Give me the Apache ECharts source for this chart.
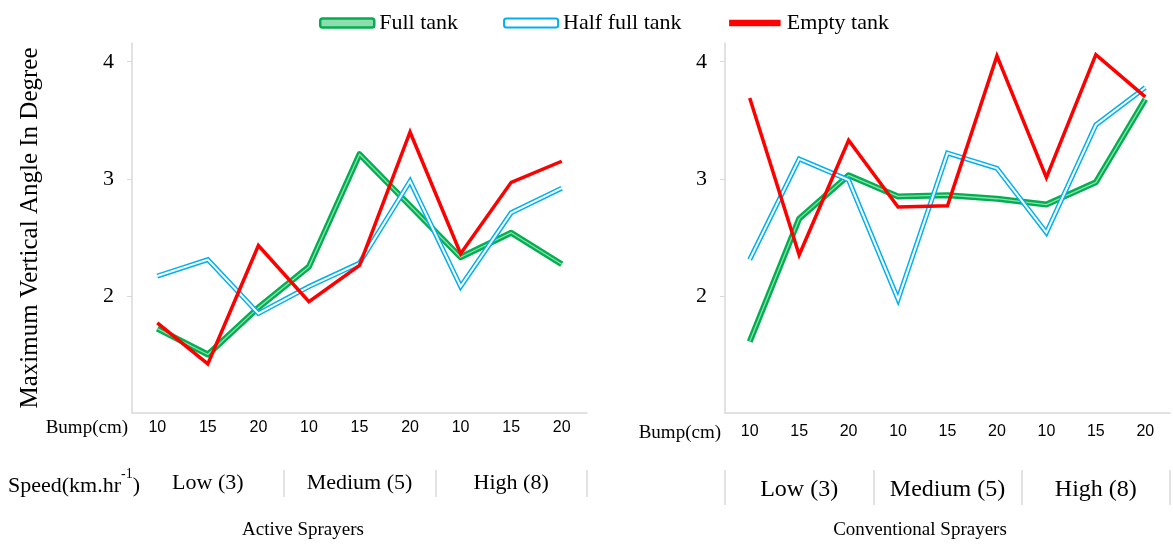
<!DOCTYPE html>
<html>
<head>
<meta charset="utf-8">
<title>Maximum Vertical Angle</title>
<script src="https://cdn.jsdelivr.net/npm/echarts@6/dist/echarts.min.js"></script>
<style>
  html, body { margin: 0; padding: 0; background: #fff; }
  #main { width: 1173px; height: 545px; }
</style>
</head>
<body>
<div id="main"></div>
<script>
// 数据
var bumps = ['10', '15', '20'];
var speeds = ['Low (3)', 'Medium (5)', 'High (8)'];
var tanks = ['Full tank', 'Half full tank', 'Empty tank'];
var yTicks = [2, 3, 4];

// Active Sprayers
var activeFull  = [1.72, 1.50, 1.90, 2.25, 3.21, 2.77, 2.33, 2.54, 2.27];
var activeHalf  = [2.17, 2.31, 1.85, 2.08, 2.28, 2.98, 2.08, 2.71, 2.92];
var activeEmpty = [1.77, 1.42, 2.43, 1.95, 2.26, 3.40, 2.36, 2.97, 3.15];

// Conventional Sprayers
var convFull  = [1.61, 2.66, 3.03, 2.85, 2.86, 2.83, 2.78, 2.97, 3.68];
var convHalf  = [2.31, 3.17, 2.99, 1.97, 3.22, 3.09, 2.54, 3.46, 3.78];
var convEmpty = [3.69, 2.35, 3.33, 2.76, 2.77, 4.05, 3.01, 4.06, 3.70];

var serif = 'Liberation Serif';
var sans = 'Liberation Sans';
var axisGray = '#d9d9d9';

// 类目: 速度|颠簸
var categories = [];
speeds.forEach(function (s) {
  bumps.forEach(function (b) { categories.push(s + '|' + b); });
});

function bumpAxis(gridIndex, labelMargin) {
  return {
    type: 'category', gridIndex: gridIndex, data: categories,
    axisLine: { lineStyle: { color: axisGray, width: 1.5 } },
    axisTick: { interval: 2, length: 10, lineStyle: { color: axisGray, width: 1.5 } },
    axisLabel: {
      interval: 0, margin: labelMargin, color: '#000', fontFamily: sans, fontSize: 16,
      formatter: function (v) { return v.split('|')[1]; }
    }
  };
}

function speedAxis(gridIndex, tickLen, labelMargin, fontSize, skipFirst) {
  return {
    type: 'category', gridIndex: gridIndex, data: speeds, position: 'bottom', offset: 57,
    axisLine: { show: false },
    axisTick: {
      show: true, length: tickLen, lineStyle: { color: axisGray, width: 1.5 },
      interval: skipFirst ? function (idx) { return idx > 0; } : 0
    },
    axisLabel: { interval: 0, margin: labelMargin, color: '#000', fontFamily: serif, fontSize: fontSize }
  };
}

function valueAxis(gridIndex) {
  return {
    type: 'value', gridIndex: gridIndex, min: 1, max: 4.16,
    splitLine: { show: false },
    axisLine: { show: true, lineStyle: { color: axisGray, width: 1.5 } },
    axisTick: { show: true, length: 5, customValues: yTicks, lineStyle: { color: axisGray } },
    axisLabel: { customValues: yTicks, margin: 18, color: '#000', fontFamily: serif, fontSize: 22 }
  };
}

// 线条: 外层 + 内层(模拟双线)
function lines(xi, yi, full, half, empty) {
  var base = { type: 'line', xAxisIndex: xi, yAxisIndex: yi, symbol: 'none', silent: true };
  return [
    Object.assign({}, base, { name: tanks[0], data: full,
      lineStyle: { color: '#00B050', width: 6, join: 'round' } }),
    Object.assign({}, base, { name: 'full-inner', data: full,
      lineStyle: { color: '#8fdcae', width: 1.3, join: 'round' } }),
    Object.assign({}, base, { name: tanks[1], data: half,
      lineStyle: { color: '#00B0F0', width: 5, join: 'miter' } }),
    Object.assign({}, base, { name: 'half-inner', data: half,
      lineStyle: { color: '#ffffff', width: 2, join: 'miter' } }),
    Object.assign({}, base, { name: tanks[2], data: empty,
      lineStyle: { color: '#FF0000', width: 3.5, join: 'miter' } })
  ];
}

var option = {
  animation: false,
  legend: {
    left: 314, top: 7, itemWidth: 54, itemHeight: 9, itemGap: 45,
    textStyle: { fontFamily: serif, fontSize: 22, color: '#000' },
    data: [
      { name: tanks[0], icon: 'roundRect', itemStyle: { color: '#8fdcae', borderColor: '#00B050', borderWidth: 2.5 } },
      { name: tanks[1], icon: 'roundRect', itemStyle: { color: '#ffffff', borderColor: '#00B0F0', borderWidth: 2 } },
      { name: tanks[2], icon: 'rect', itemStyle: { color: '#FF0000', borderColor: '#ffffff', borderWidth: 2.5 } }
    ]
  },
  grid: [
    { left: 132, right: 586, top: 43, bottom: 132 },
    { left: 725, right: 3, top: 43, bottom: 132 }
  ],
  xAxis: [
    bumpAxis(0, 7),
    speedAxis(0, 27, 2, 22, true),
    bumpAxis(1, 11),
    speedAxis(1, 35, 8, 24, false)
  ],
  yAxis: [valueAxis(0), valueAxis(1)],
  series: lines(0, 0, activeFull, activeHalf, activeEmpty)
    .concat(lines(2, 1, convFull, convHalf, convEmpty)),
  graphic: [
    { type: 'text', x: 30, y: 228, rotation: Math.PI / 2,
      style: { text: 'Maximum Vertical Angle In Degree', font: '25px "Liberation Serif"', fill: '#000',
        textAlign: 'center', textVerticalAlign: 'middle' } },
    { type: 'text', x: 128, y: 428,
      style: { text: 'Bump(cm)', font: '19px "Liberation Serif"', fill: '#000',
        textAlign: 'right', textVerticalAlign: 'middle' } },
    { type: 'text', x: 721, y: 433,
      style: { text: 'Bump(cm)', font: '19px "Liberation Serif"', fill: '#000',
        textAlign: 'right', textVerticalAlign: 'middle' } },
    { type: 'text', x: 8, y: 482,
      style: {
        text: '{a|Speed(km.hr}{s|-1}{a|)}', textAlign: 'left', textVerticalAlign: 'middle',
        rich: {
          a: { fontFamily: serif, fontSize: 22, color: '#000', lineHeight: 30, verticalAlign: 'bottom' },
          s: { fontFamily: serif, fontSize: 14, color: '#000', lineHeight: 30, verticalAlign: 'top' }
        }
      } },
    { type: 'text', x: 303, y: 530,
      style: { text: 'Active Sprayers', font: '19px "Liberation Serif"', fill: '#000',
        textAlign: 'center', textVerticalAlign: 'middle' } },
    { type: 'text', x: 920, y: 530,
      style: { text: 'Conventional Sprayers', font: '19px "Liberation Serif"', fill: '#000',
        textAlign: 'center', textVerticalAlign: 'middle' } }
  ]
};

var myChart = echarts.init(document.getElementById('main'));
myChart.setOption(option);
</script>
</body>
</html>
